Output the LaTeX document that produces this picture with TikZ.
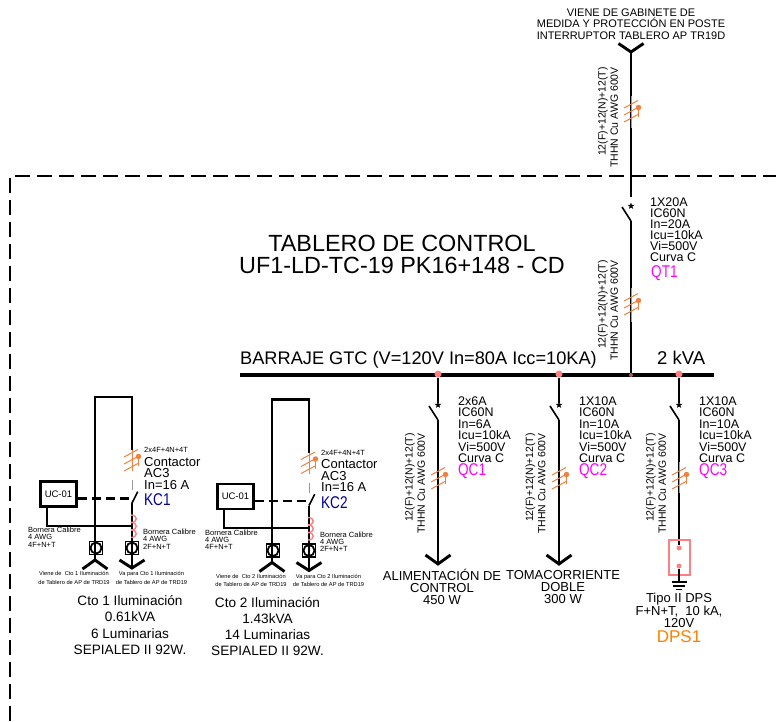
\documentclass[tikz,border=0pt]{standalone}
\usepackage{fontspec}
\setmainfont{Liberation Sans}
\usetikzlibrary{shapes.geometric}
\definecolor{tick}{HTML}{F08040}
\definecolor{salmon}{HTML}{FF8080}
\definecolor{kcblue}{HTML}{000099}
\definecolor{dpsor}{HTML}{FF8000}
\definecolor{tagmag}{HTML}{FF00FF}
\newcommand{\fs}[2]{\fontsize{#1}{#2}\selectfont}
\tikzset{
 x=1pt,y=-1pt,
 wire/.style={line width=2.9pt,black,line cap=butt},
 thinwire/.style={line width=1.6pt,black},
 busbar/.style={line width=4.5pt,black},
 frame/.style={line width=1.5pt,black,dash pattern=on 15pt off 7pt},
 ticklines/.style={line width=1pt,tick},
 tickdot/.style={circle,fill=tick,inner sep=0,minimum size=5.5pt},
 busdot/.style={circle,fill=salmon,inner sep=0,minimum size=7pt},
 starmark/.style={star,star points=5,star point ratio=2.4,fill=black,inner sep=0,minimum size=7pt},
 spec/.style={inner sep=0,anchor=north west,align=left,font=\fs{12.5}{10.9}},
 specb/.style={inner sep=0,anchor=north west,align=left,font=\fs{12.5}{11.4}},
 magtag/.style={inner sep=0,anchor=west,text=tagmag,font=\fs{17}{17},xscale=.8,transform shape},
 cable/.style={inner sep=0,rotate=90,anchor=east,align=right,font=\fs{10.5}{12.4}},
 capt/.style={inner sep=0,align=center,font=\fs{13}{11.8}},
 small/.style={inner sep=0,align=center,font=\fs{5.7}{8.6}},
 born/.style={inner sep=0,anchor=north west,align=left,font=\fs{7.5}{7.3}},
 desc/.style={inner sep=0,align=center,font=\fs{13.6}{16.1}},
}
% Y-shaped end mark: name, tip x, tip y, arm dy
\newcommand{\arrowmark}[4]{%
 \coordinate (#1t) at (#2,#3);
 \coordinate (#1l) at (#2-12.5,#3+#4);
 \coordinate (#1r) at (#2+12.5,#3+#4);
 \draw[wire,line join=miter] (#1l) -- (#1t) -- (#1r);}
% cable ticks: name, x, y of middle slash
\newcommand{\ticks}[3]{%
 \foreach \d in {-7,0,7}{\draw[ticklines] (#2-7,#3+\d) -- (#2+7,#3+\d-7.5);}
 \node[tickdot] (#1dot) at (#2+7.5,#3-7.5) {};
 \draw[ticklines] (#1dot) -- (#2+7.5,#3+2);}
% breaker: name, x, star y
\newcommand{\breaker}[3]{%
 \node[starmark] (#1st) at (#2,#3) {};
 \coordinate (#1bl) at (#2-9,#3+1);
 \coordinate (#1br) at (#2,#3+15);
 \draw[thinwire] (#1bl) -- (#1br);}
% contactor circuit, drawn at the KC1 position
\newcommand{\contactor}[1]{%
 \coordinate (k#1a) at (95,397); \coordinate (k#1b) at (132,397);
 \coordinate (k#1c) at (95,560); \coordinate (k#1d) at (132,450);
 \draw[wire,line join=miter] (k#1c) -- (k#1a) -- (k#1b) -- (k#1d);
 \draw[ticklines] (132,450) -- (132,471);
 \ticks{k#1t}{131}{464}
 \draw[line width=.7pt,black!40] (132,480) -- (132,490);
 \coordinate (k#1h) at (137.7,491.7); \coordinate (k#1i) at (132,503);
 \coordinate (k#1j) at (132,568);
 \draw[thinwire] (k#1h) -- (k#1i);
 \draw[wire] (k#1i) -- (k#1j);
 \foreach \s in {515,522.5,530}{\draw[line width=1.4pt,salmon] (131,\s) .. controls (138,\s) and (138,\s+7.5) .. (131,\s+7.5);}
 \node[draw=black,line width=2.4pt,minimum width=36pt,minimum height=25pt,inner sep=0,font=\fs{9.5}{9.5}] (uc#1) at (58.5,494) {UC-01};
 \coordinate (k#1e) at (131,498.5);
 \draw[line width=2.4pt,dash pattern=on 9pt off 5pt] (uc#1.east |- k#1e) -- (k#1e);
 \coordinate (k#1m) at (47,525.7); \coordinate (k#1n) at (132,525.7);
 \draw[line width=2.4pt] (uc#1.south -| k#1m) -- (k#1m) -- (k#1n);
 \node[draw=black,line width=1.8pt,fill=white,minimum size=13pt,inner sep=0] (k#1p) at (96,548) {};
 \node[draw=black,line width=1.8pt,fill=white,minimum size=13pt,inner sep=0] (k#1q) at (132,548) {};
 \node[draw=black,line width=1.8pt,circle,minimum size=11pt,inner sep=0] at (k#1p) {};
 \node[draw=black,line width=1.8pt,circle,minimum size=11pt,inner sep=0] at (k#1q) {};
 \draw[wire] (95,541) -- (95,555);
 \draw[wire] (132,541) -- (132,555);
 \arrowmark{k#1u}{95}{560}{9}
 \arrowmark{k#1v}{132}{568}{-8}
 \node[inner sep=0,anchor=west,font=\fs{7.5}{7.5}] (k#1s) at (144,450) {2x4F+4N+4T};
 \node[spec,font=\fs{13}{11.6}] (k#1txt) at (144,457) {Contactor\\AC3\\In=16 A};
 \node[inner sep=0,anchor=west,text=kcblue,font=\fs{17}{17},xscale=.8,transform shape] (k#1n2) at (144,500) {KC#1};
 \node[born] (k#1bl) at (28,527) {Bornera Calibre\\4 AWG\\4F+N+T};
 \node[born] (k#1br) at (143,529) {Bornera Calibre\\4 AWG\\2F+N+T};
 \node[small] (k#1sl) at (74,578) {Viene de\ \ Cto #1 Iluminación\\de Tablero de AP de TRD19};
 \node[small] (k#1sr) at (151.5,578) {Va para Cto #1 Iluminación\\de Tablero de AP de TRD19};
}
\begin{document}
\begin{tikzpicture}
\useasboundingbox (0,0) rectangle (776,721);
% panel outline
\coordinate (fa) at (10,721); \coordinate (fb) at (10,176); \coordinate (fc) at (776,176);
\draw[frame] (fa) -- (fb) -- (fc);
% titles
\node[inner sep=0,align=center,font=\fs{11}{11.6}] (source) at (631,24) {VIENE DE GABINETE DE\\MEDIDA Y PROTECCIÓN EN POSTE\\INTERRUPTOR TABLERO AP TR19D};
\node[inner sep=0,align=center,font=\fs{23.4}{21.5}] (title) at (402,254.5) {TABLERO DE CONTROL\\UF1-LD-TC-19 PK16+148 - CD};
\node[inner sep=0,anchor=west,font=\fs{18.2}{18.2}] (barlabel) at (240,360) {BARRAJE GTC (V=120V In=80A Icc=10KA)};
\node[inner sep=0,anchor=west,font=\fs{18.5}{18.5}] (kva) at (657,358) {2 kVA};
% bus
\coordinate (busl) at (240,375); \coordinate (busr) at (714,375);
\draw[busbar] (busl) -- (busr);
% QT1
\arrowmark{qta}{631}{52}{-8.5}
\coordinate (qtb) at (631,197);
\draw[wire] (qtat) -- (qtb);
\breaker{qt}{631}{206}
\coordinate (qtc) at (631,375);
\draw[wire] (qtbr) -- (qtc);
\draw[ticklines] (631,96) -- (631,128);
\draw[ticklines] (631,288) -- (631,322);
\ticks{qta2}{631}{115}
\ticks{qtb2}{631}{308}
\node[cable] (qtl1) at (608,67) {12(F)+12(N)+12(T)\\THHN Cu AWG 600V};
\node[cable] (qtl2) at (608,260) {12(F)+12(N)+12(T)\\THHN Cu AWG 600V};
\node[spec] (qtspec) at (650,198) {1X20A\\IC60N\\In=20A\\Icu=10kA\\Vi=500V\\Curva C};
\node[magtag] (qttag) at (651,273) {QT1};
\node[circle,fill=salmon!70!black,inner sep=0,minimum size=4pt] (qtbus) at (631,375) {};
% QC1
\node[busdot] (c1d) at (438,374) {};
\coordinate (c1a) at (438,403);
\draw[wire] (c1d) -- (c1a);
\breaker{c1}{438}{405}
\arrowmark{c1y}{438}{564}{-9}
\draw[wire] (c1br) -- (c1yt);
\ticks{c1t}{438}{482}
\node[cable] (c1l) at (415,433) {12(F)+12(N)+12(T)\\THHN Cu AWG 600V};
\node[specb] (c1s) at (458,396.5) {2x6A\\IC60N\\In=6A\\Icu=10kA\\Vi=500V\\Curva C};
\node[magtag] (c1tag) at (458,471) {QC1};
% QC2
\node[busdot] (c2d) at (559,374) {};
\coordinate (c2a) at (559,403);
\draw[wire] (c2d) -- (c2a);
\breaker{c2}{559}{405}
\arrowmark{c2y}{559}{564}{-9}
\draw[wire] (c2br) -- (c2yt);
\ticks{c2t}{559}{482}
\node[cable] (c2l) at (535.5,433) {12(F)+12(N)+12(T)\\THHN Cu AWG 600V};
\node[specb] (c2s) at (579,396.5) {1X10A\\IC60N\\In=10A\\Icu=10kA\\Vi=500V\\Curva C};
\node[magtag] (c2tag) at (579,471) {QC2};
% QC3 and surge protector
\node[busdot] (c3d) at (679,374) {};
\coordinate (c3a) at (679,403);
\draw[wire] (c3d) -- (c3a);
\breaker{c3}{679}{405}
\node[circle,fill=salmon,inner sep=0,minimum size=5pt] (dpsa) at (679,548) {};
\node[circle,fill=salmon,inner sep=0,minimum size=5pt] (dpsb) at (679,566) {};
\draw[wire] (c3br) -- (dpsa);
\draw[ticklines] (679,462) -- (679,493);
\ticks{c3t}{679}{482}
\node[draw=salmon,line width=1.3pt,minimum width=21pt,minimum height=35pt,inner sep=0] (dps) at (679.5,557.5) {};
\coordinate (gnd) at (679,582);
\draw[line width=1.3pt,black] (dpsb) -- (gnd);
\draw[line width=1.3pt,black] (671.5,582) -- (686.5,582);
\draw[line width=1.3pt,black] (673,586) -- (685,586);
\draw[line width=1.3pt,black] (676,589.5) -- (682,589.5);
\node[cable] (c3l) at (656,433) {12(F)+12(N)+12(T)\\THHN Cu AWG 600V};
\node[specb] (c3s) at (699,396.5) {1X10A\\IC60N\\In=10A\\Icu=10kA\\Vi=500V\\Curva C};
\node[magtag] (c3tag) at (699,471) {QC3};
\node[capt] (dpst) at (679,610.5) {Tipo II DPS\\F+N+T,\ \ 10 kA,\\120V};
\node[inner sep=0,text=dpsor,font=\fs{17}{17}] (dpstag) at (679,637) {DPS1};
% load captions
\node[capt] (load1) at (442,587) {ALIMENTACIÓN DE\\CONTROL\\450 W};
\node[capt] (load2) at (563,587) {TOMACORRIENTE\\DOBLE\\300 W};
% contactor circuits
\begin{scope}
\contactor{1}
\end{scope}
\begin{scope}[shift={(177,2.5)}]
\contactor{2}
\end{scope}
\node[desc] (d1) at (130,625) {Cto 1 Iluminación\\0.61kVA\\6 Luminarias\\SEPIALED II 92W.};
\node[desc] (d2) at (267.5,626.5) {Cto 2 Iluminación\\1.43kVA\\14 Luminarias\\SEPIALED II 92W.};
\end{tikzpicture}
\end{document}
